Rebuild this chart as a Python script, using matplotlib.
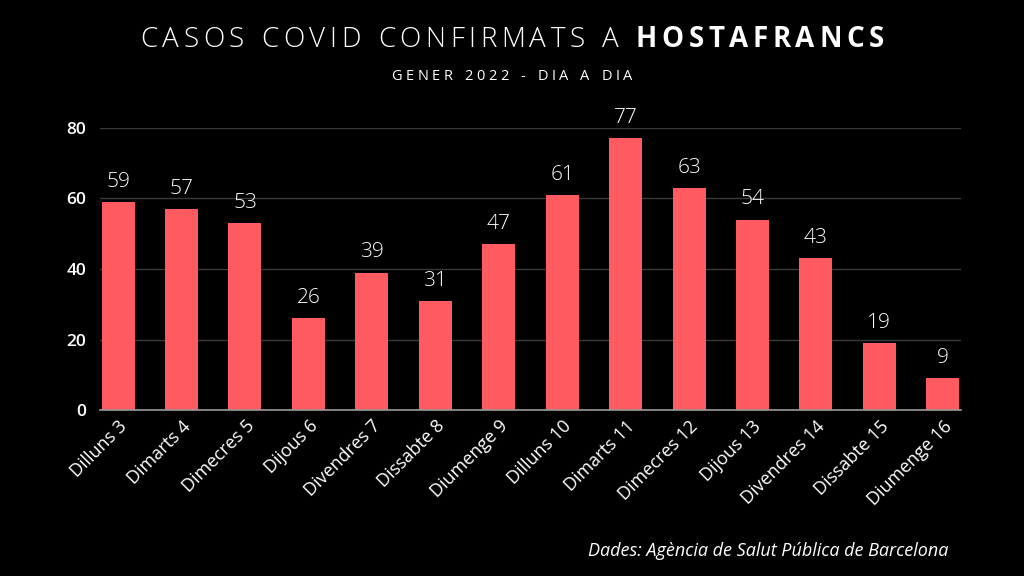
import matplotlib
matplotlib.use("Agg")
import matplotlib.pyplot as plt

# ── Data ──────────────────────────────────────────────────────────────────────
days = ['Dilluns 3', 'Dimarts 4', 'Dimecres 5', 'Dijous 6', 'Divendres 7',
        'Dissabte 8', 'Diumenge 9', 'Dilluns 10', 'Dimarts 11', 'Dimecres 12',
        'Dijous 13', 'Divendres 14', 'Dissabte 15', 'Diumenge 16']
cases = [59, 57, 53, 26, 39, 31, 47, 61, 77, 63, 54, 43, 19, 9]
y_ticks = [0, 20, 40, 60, 80]

BAR = '#ff5a5f'
BG = 'black'
FONT = 'Open Sans'

fig = plt.figure(figsize=(10.24, 5.76), dpi=100)
fig.patch.set_facecolor(BG)
ax = fig.add_axes([0.098, 0.288, 0.84, 0.49])
ax.set_facecolor(BG)

x = list(range(len(days)))
bars = ax.bar(x, cases, width=0.52, color=BAR, zorder=3)
for xi, v in zip(x, cases):
    ax.text(xi, v + 4.3, str(v), ha='center', va='baseline', color='white',
            fontsize=15, family=FONT, fontweight='light', clip_on=False)

ax.set_xlim(-0.28, len(days) - 1 + 0.28)
ax.set_ylim(0, 80)
ax.set_yticks(y_ticks)
ax.set_yticklabels([str(t) for t in y_ticks], color='white', fontsize=12.5,
                   family=FONT, fontweight='semibold')
ax.yaxis.grid(True, color='#3a3a3a', linewidth=1.0, zorder=0)
ax.set_xticks(x)
ax.set_xticklabels(days, rotation=45, ha='right', rotation_mode='anchor',
                   color='white', fontsize=13, family=FONT)
ax.tick_params(axis='y', length=0, pad=10)
ax.tick_params(axis='x', length=0, pad=5)
for s in ['top', 'right', 'left']:
    ax.spines[s].set_visible(False)
ax.spines['bottom'].set_color('#9a9a9a')
ax.spines['bottom'].set_linewidth(1.2)
ax.spines['bottom'].set_zorder(4)


# ── Letter-spaced titles ──────────────────────────────────────────────────────
def tracked(parts, y, size, track, space):
    """Draw centred text with extra letter spacing. parts = [(text, weight)]."""
    r = fig.canvas.get_renderer()
    chars = [(c, w) for t, w in parts for c in t]
    widths = []
    for c, w in chars:
        if c == ' ':
            widths.append(size * space)
            continue
        t = fig.text(0, 0, c, fontsize=size, family=FONT, fontweight=w)
        widths.append(t.get_window_extent(r).width)
        t.remove()
    total = sum(widths) + track * (len(chars) - 1)
    W = fig.get_figwidth() * fig.dpi
    px = W / 2 - total / 2
    for (c, w), wd in zip(chars, widths):
        if c != ' ':
            fig.text(px / W, y, c, fontsize=size, family=FONT, fontweight=w,
                     color='white', va='baseline', ha='left')
        px += wd + track


tracked([('CASOS COVID CONFIRMATS A ', 'light'), ('HOSTAFRANCS', 'bold')],
        1 - 47 / 576, 20, 4.6, 0.4)
tracked([('GENER 2022 - DIA A DIA', 'normal')], 1 - 80 / 576, 10.5, 3.6, 0.45)

fig.text(948 / 1024, 1 - 556 / 576,
         'Dades: Agència de Salut Pública de Barcelona',
         ha='right', va='baseline', color='white', fontsize=13,
         family=FONT, style='italic')

fig.savefig('out.png', dpi=100, facecolor=BG)
